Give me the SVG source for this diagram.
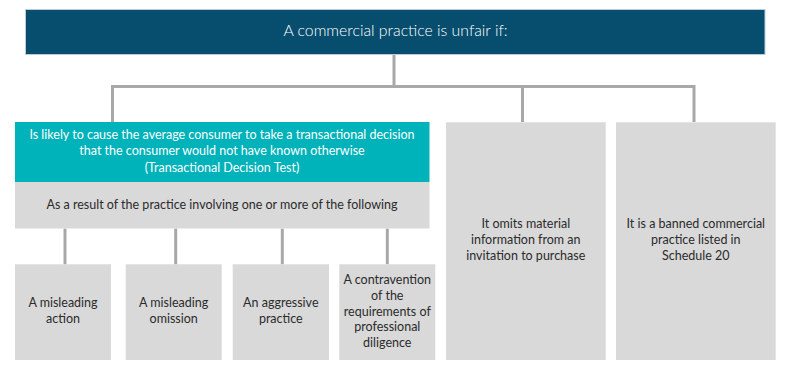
<svg xmlns="http://www.w3.org/2000/svg" width="793" height="369" viewBox="0 0 793 369">
<style>
text{font-family:Lato,"Open Sans","Liberation Sans",sans-serif;text-anchor:middle;font-size:12.5px;fill:#2b2b2b}
.w{fill:#ffffff}
.t{font-size:15.8px;fill:#ffffff;font-weight:300}
.g{fill:#d9d9d9}
.c{fill:none;stroke:#a8a8a8;stroke-width:3}
</style>
<rect width="793" height="369" fill="#ffffff"/>
<g id="connectors">
<path class="c" d="M394 54 V86.5"/>
<path class="c" d="M112.5 122 V86.5 H694 V122"/>
<path class="c" d="M522.5 86.5 V122"/>
<path class="c" d="M65 228.5 V264.3"/>
<path class="c" d="M175.7 228.5 V264.3"/>
<path class="c" d="M282.3 228.5 V264.3"/>
<path class="c" d="M387.3 228.5 V264.3"/>
</g>
<g id="root">
<rect x="25.5" y="9.5" width="739.5" height="45" fill="#064d6e" stroke="#bccdd6" stroke-width="1"/>
<text class="t" x="395.5" y="35.5">A commercial practice is unfair if:</text>
</g>
<g id="test">
<rect x="15" y="122" width="414.5" height="60" fill="#00b2b9"/>
<text class="w" x="222" y="139">Is likely to cause the average consumer to take a transactional decision</text>
<text class="w" x="222" y="155">that the consumer would not have known otherwise</text>
<text class="w" x="222" y="171.5">(Transactional Decision Test)</text>
</g>
<g id="result">
<rect class="g" x="15" y="182" width="414.5" height="46.5"/>
<text x="222" y="208.5">As a result of the practice involving one or more of the following</text>
</g>
<g id="misleading-action">
<rect class="g" x="15" y="264.3" width="96" height="95.7"/>
<text x="63" y="307.3">A misleading</text>
<text x="63" y="322.8">action</text>
</g>
<g id="misleading-omission">
<rect class="g" x="125.7" y="264.3" width="96" height="95.7"/>
<text x="173.7" y="307.3">A misleading</text>
<text x="173.7" y="322.8">omission</text>
</g>
<g id="aggressive-practice">
<rect class="g" x="232.7" y="264.3" width="96.3" height="95.7"/>
<text x="280.8" y="307.3">An aggressive</text>
<text x="280.8" y="322.8">practice</text>
</g>
<g id="professional-diligence">
<rect class="g" x="339.3" y="264.3" width="96" height="95.7"/>
<text x="387.3" y="284">A contravention</text>
<text x="387.3" y="299.8">of the</text>
<text x="387.3" y="315.6">requirements of</text>
<text x="387.3" y="331.4">professional</text>
<text x="387.3" y="347.2">diligence</text>
</g>
<g id="omits-information">
<rect class="g" x="446" y="122.3" width="159.7" height="237.7"/>
<text x="525.8" y="228.3">It omits material</text>
<text x="525.8" y="244">information from an</text>
<text x="525.8" y="259.5">invitation to purchase</text>
</g>
<g id="banned-practice">
<rect class="g" x="616" y="122.3" width="159.7" height="237.7"/>
<text x="695.8" y="228.3">It is a banned commercial</text>
<text x="695.8" y="244">practice listed in</text>
<text x="695.8" y="259.5">Schedule 20</text>
</g>
</svg>
